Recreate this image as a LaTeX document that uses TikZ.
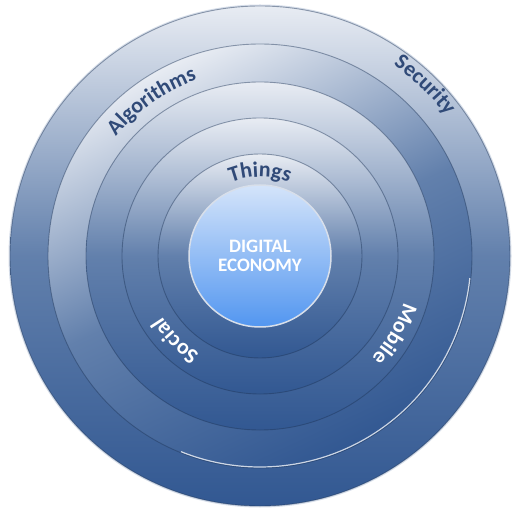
\documentclass[tikz,border=0pt]{standalone}
\usepackage{fontspec}
\setmainfont{Carlito}
\usetikzlibrary{decorations.text}
\definecolor{ringtop}{RGB}{232,236,243}
\definecolor{ringmid}{RGB}{98,128,172}
\definecolor{ringbot}{RGB}{50,88,146}
\definecolor{coretop}{RGB}{212,228,250}
\definecolor{corebot}{RGB}{82,150,240}
\definecolor{txtblue}{RGB}{48,74,120}
\newcommand\ringfont{\fontsize{22}{24}\selectfont\bfseries}
\tikzset{
  disc/.style={top color=ringtop, bottom color=ringbot, middle color=ringmid, draw=ringbot!60!black, draw opacity=.45, line width=.9pt},
  ringtext/.style={decorate, decoration={text along path, text align=center, text={|\ringfont|#1}}}
}

\begin{document}
\begin{tikzpicture}[x=1pt,y=1pt]
\useasboundingbox (0,0) rectangle (516,514);
\coordinate (c) at (260,258);
\draw[ringbot, opacity=.2, line width=3pt] (c) circle[radius=250pt];
\shade[disc] (c) circle[radius=250pt];
\shade[disc, shading angle=25] (c) circle[radius=212pt];
\draw[white, opacity=.75, line width=1.2pt] (c) ++(-6:211pt) arc[start angle=-6, end angle=-112, radius=211pt];
\shade[disc] (c) circle[radius=174pt];
\shade[disc] (c) circle[radius=138pt];
\shade[disc] (c) circle[radius=102pt];
\shade[top color=coretop, bottom color=corebot, draw=white!75!ringmid, line width=1.5pt] (c) circle[radius=71pt];
\node[white, align=center, font=\fontsize{19}{19}\selectfont\bfseries] (core) at (c) {DIGITAL\\ECONOMY};
\path[ringtext=Things, decoration={text color=txtblue}] (c) ++(130:79pt) arc[start angle=130, end angle=50, radius=79pt];
\path[ringtext=Social, decoration={text color=white}] (c) ++(260:115pt) arc[start angle=260, end angle=190, radius=115pt];
\path[ringtext=Mobile, decoration={text color=white}] (c) ++(5:151pt) arc[start angle=5, end angle=-65, radius=151pt];
\path[ringtext=Algorithms, decoration={text color=txtblue}] (c) ++(160:187pt) arc[start angle=160, end angle=90, radius=187pt];
\path[ringtext=Security, decoration={text color=txtblue}] (c) ++(76:233pt) arc[start angle=76, end angle=16, radius=233pt];
\end{tikzpicture}
\end{document}
